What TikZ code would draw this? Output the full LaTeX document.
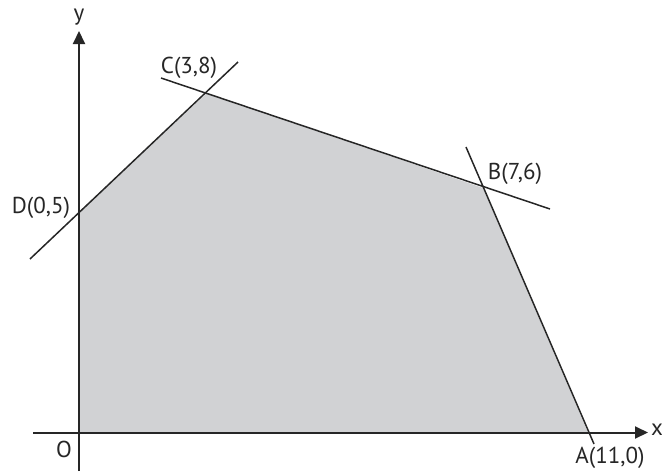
\documentclass[tikz,border=0pt]{standalone}
\usepackage{fontspec}
\setmainfont{PT Sans}
\usetikzlibrary{arrows.meta}
\begin{document}
\begin{tikzpicture}[x=1pt,y=-1pt,
  axis/.style={line width=2pt,draw=black!85,-{Triangle[length=13pt,width=12pt]}},
  bound/.style={line width=1.5pt,draw=black!85},
  lbl/.style={font=\fontsize{23}{23}\selectfont,text=black!85,inner sep=0pt}]
\useasboundingbox (0,0) rectangle (662,472);
\coordinate (O) at (79,432.5);
\coordinate (A) at (588,432.5);
\coordinate (B) at (483,188);
\coordinate (C) at (207,93);
\coordinate (D) at (79,212);
\fill[fill={rgb,255:red,209;green,210;blue,212}] (O) -- (A) -- (B) -- (C) -- (D) -- cycle;
\coordinate (xs) at (33,432.5);
\coordinate (xe) at (648,432.5);
\coordinate (ys) at (79,471);
\coordinate (ye) at (79,31);
\draw[axis] (xs) -- (xe);
\draw[axis] (ys) -- (ye);
\coordinate (dc1) at (30,259);
\coordinate (dc2) at (238,62);
\coordinate (cb1) at (161,78);
\coordinate (cb2) at (550,209);
\coordinate (ba1) at (466,147);
\coordinate (ba2) at (594,444);
\draw[bound] (dc1) -- (dc2);
\draw[bound] (cb1) -- (cb2);
\draw[bound] (ba1) -- (ba2);
\node[lbl] (ylab) at (79,17) {y};
\node[lbl] (xlab) at (657,430) {x};
\node[lbl] (olab) at (64,449) {O};
\node[lbl] (alab) at (610,457.5) {A(11,0)};
\node[lbl] (blab) at (515,174) {B(7,6)};
\node[lbl] (clab) at (189,68) {C(3,8)};
\node[lbl] (dlab) at (41,208) {D(0,5)};
\end{tikzpicture}
\end{document}
